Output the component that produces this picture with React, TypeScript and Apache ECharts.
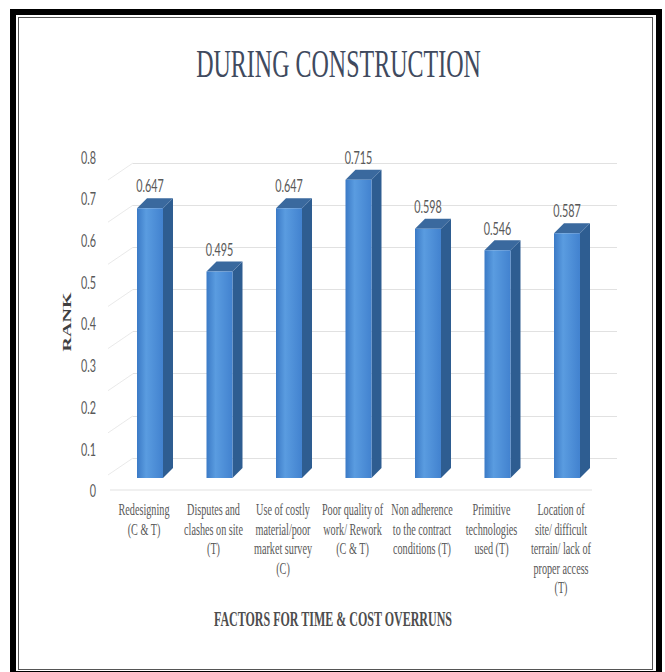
import React, { useEffect, useRef } from "react";
import * as echarts from "echarts";

const chartTitle = "DURING CONSTRUCTION";
const yAxisTitle = "RANK";
const xAxisTitle = "FACTORS FOR TIME & COST OVERRUNS";

const categories = [
  "Redesigning\n(C & T)",
  "Disputes and\nclashes on site\n(T)",
  "Use of costly\nmaterial/poor\nmarket survey\n(C)",
  "Poor quality of\nwork/ Rework\n(C & T)",
  "Non adherence\nto the contract\nconditions (T)",
  "Primitive\ntechnologies\nused (T)",
  "Location of\nsite/ difficult\nterrain/ lack of\nproper access\n(T)",
];
const rankValues = [0.647, 0.495, 0.647, 0.715, 0.598, 0.546, 0.587];

const yMin = 0;
const yMax = 0.8;
const yStep = 0.1;

// The reference is a horizontally squeezed picture: draw wide, squeeze with CSS.
const W = 665;
const H = 672;
const IW = 1108;
const S = IW / W; // screen x -> internal x

const DX = 10 * S;
const DY = -10;

// back wall lines (screen y)
const wallTop = 163;
const wallBottom = 458;
const wallLines = 8;

function renderBar(params: any, api: any) {
  const idx = api.value(0);
  const val = api.value(1);
  const top = api.coord([idx, val]);
  const base = api.coord([idx, 0]);
  const band = api.size([1, 0])[0];
  const w = band * 0.374;
  const xl = top[0] - w / 2;
  const xr = top[0] + w / 2;
  const yt = top[1];
  const yb = base[1];
  return {
    type: "group",
    children: [
      {
        type: "polygon",
        shape: {
          points: [
            [xr, yt],
            [xr + DX, yt + DY],
            [xr + DX, yb + DY],
            [xr, yb],
          ],
        },
        style: { fill: "#2e5d91" },
      },
      {
        type: "polygon",
        shape: {
          points: [
            [xl, yt],
            [xr, yt],
            [xr + DX, yt + DY],
            [xl + DX, yt + DY],
          ],
        },
        style: { fill: "#3a699e" },
      },
      {
        type: "rect",
        shape: { x: xl, y: yt, width: w, height: yb - yt },
        style: {
          fill: new echarts.graphic.LinearGradient(0, 0, 1, 0, [
            { offset: 0, color: "#3b7ac6" },
            { offset: 0.35, color: "#5a9ce0" },
            { offset: 1, color: "#4282cf" },
          ]),
        },
      },
      {
        type: "text",
        style: {
          text: val.toFixed(3),
          x: top[0],
          y: yt - 23,
          align: "center",
          verticalAlign: "middle",
          fontFamily: "Lato, 'Liberation Sans', sans-serif",
          fontSize: 18,
          fill: "#595959",
        },
      },
    ],
  };
}

export default function App() {
  const ref = useRef<HTMLDivElement>(null);
  useEffect(() => {
    if (!ref.current) return;
    const chart = echarts.init(ref.current, undefined, { renderer: "svg" });

    const diagonals = [];
    const gap = (wallBottom - wallTop) / (wallLines - 1);
    for (let k = 0; k < wallLines; k++) {
      const yb = wallBottom - k * gap;
      diagonals.push({
        type: "line",
        shape: { x1: 108 * S, y1: yb + 17, x2: 133 * S, y2: yb },
        style: { stroke: "#e3e3e3", lineWidth: 1 },
      });
    }

    chart.setOption({
      animation: false,
      backgroundColor: "#ffffff",
      grid: [
        {
          left: 115.25 * S,
          width: 486.5 * S,
          top: 144.4,
          height: 333.6,
          outerBoundsMode: "none",
          containLabel: false,
        },
        {
          left: 133 * S,
          width: (617 - 133) * S,
          top: wallTop,
          height: wallBottom - wallTop,
          outerBoundsMode: "none",
          containLabel: false,
        },
        {
          left: 115.25 * S,
          width: 486.5 * S,
          top: 156.4,
          height: 333.6,
          outerBoundsMode: "none",
          containLabel: false,
        },
      ],
      xAxis: [
        {
          type: "category",
          gridIndex: 0,
          data: categories,
          axisLine: { show: false },
          axisTick: { show: false },
          splitLine: { show: false },
          axisLabel: {
            interval: 0,
            margin: 22,
            fontFamily: "'Liberation Serif', serif",
            fontSize: 17,
            lineHeight: 19.5,
            color: "#595959",
            align: "center",
            padding: [0, 20, 0, 0],
          },
        },
        { type: "value", gridIndex: 1, show: false },
        { type: "value", gridIndex: 2, show: false },
      ],
      yAxis: [
        {
          type: "value",
          gridIndex: 0,
          min: yMin,
          max: yMax,
          interval: yStep,
          axisLine: { show: false },
          axisTick: { show: false },
          splitLine: { show: false },
          axisLabel: { show: false },
        },
        {
          type: "value",
          gridIndex: 1,
          min: 1,
          max: wallLines,
          interval: 1,
          axisLine: { show: false },
          axisTick: { show: false },
          axisLabel: { show: false },
          splitLine: { show: true, lineStyle: { color: "#d9d9d9", width: 1 } },
        },
        {
          type: "value",
          gridIndex: 2,
          min: yMin,
          max: yMax,
          interval: yStep,
          axisLine: { show: false },
          axisTick: { show: false },
          splitLine: { show: false },
          axisLabel: {
            margin: 32,
            fontFamily: "Lato, 'Liberation Sans', sans-serif",
            fontSize: 18,
            color: "#595959",
            formatter: (v: number) => (v === 0 ? "0" : String(+v.toFixed(1))),
          },
        },
      ],
      series: [
        {
          type: "custom",
          xAxisIndex: 0,
          yAxisIndex: 0,
          renderItem: renderBar,
          encode: { x: 0, y: 1 },
          data: rankValues.map((v, i) => [i, v]),
          z: 5,
        },
      ],
      graphic: [
        ...diagonals,
        {
          type: "line",
          shape: { x1: 110 * S, y1: 490, x2: 592 * S, y2: 490 },
          style: { stroke: "#d9d9d9", lineWidth: 1 },
        },
        {
          type: "text",
          x: 338.5 * S,
          y: 63.5,
          style: {
            text: chartTitle,
            fontFamily: "'Liberation Serif', serif",
            fontSize: 40,
            fill: "#404a5e",
            align: "center",
            verticalAlign: "middle",
          },
        },
        {
          type: "text",
          x: 67 * S,
          y: 322,
          rotation: Math.PI / 2,
          style: {
            text: yAxisTitle,
            fontFamily: "'Liberation Serif', serif",
            fontWeight: "bold",
            fontSize: 20,
            fill: "#404040",
            align: "center",
            verticalAlign: "middle",
          },
        },
        {
          type: "text",
          x: 333 * S,
          y: 619,
          style: {
            text: xAxisTitle,
            fontFamily: "'Liberation Serif', serif",
            fontWeight: "bold",
            fontSize: 20,
            fill: "#4d4d4d",
            align: "center",
            verticalAlign: "middle",
          },
        },
      ],
    });
    return () => chart.dispose();
  }, []);

  return (
    <div
      style={{
        position: "fixed",
        left: 0,
        top: 0,
        width: W,
        height: H,
        overflow: "hidden",
        background: "#ffffff",
      }}
    >
      <div
        ref={ref}
        style={{
          position: "absolute",
          left: 0,
          top: 0,
          width: IW,
          height: H,
          transform: `scaleX(${W / IW})`,
          transformOrigin: "0 0",
        }}
      />
      <div
        style={{
          position: "absolute",
          left: 10,
          top: 9,
          width: 652,
          height: 668,
          border: "6px solid #000",
          boxSizing: "border-box",
          pointerEvents: "none",
        }}
      />
      <div
        style={{
          position: "absolute",
          left: 18,
          top: 17,
          width: 635,
          height: 653,
          border: "1.5px solid #555",
          boxSizing: "border-box",
          pointerEvents: "none",
        }}
      />
    </div>
  );
}
